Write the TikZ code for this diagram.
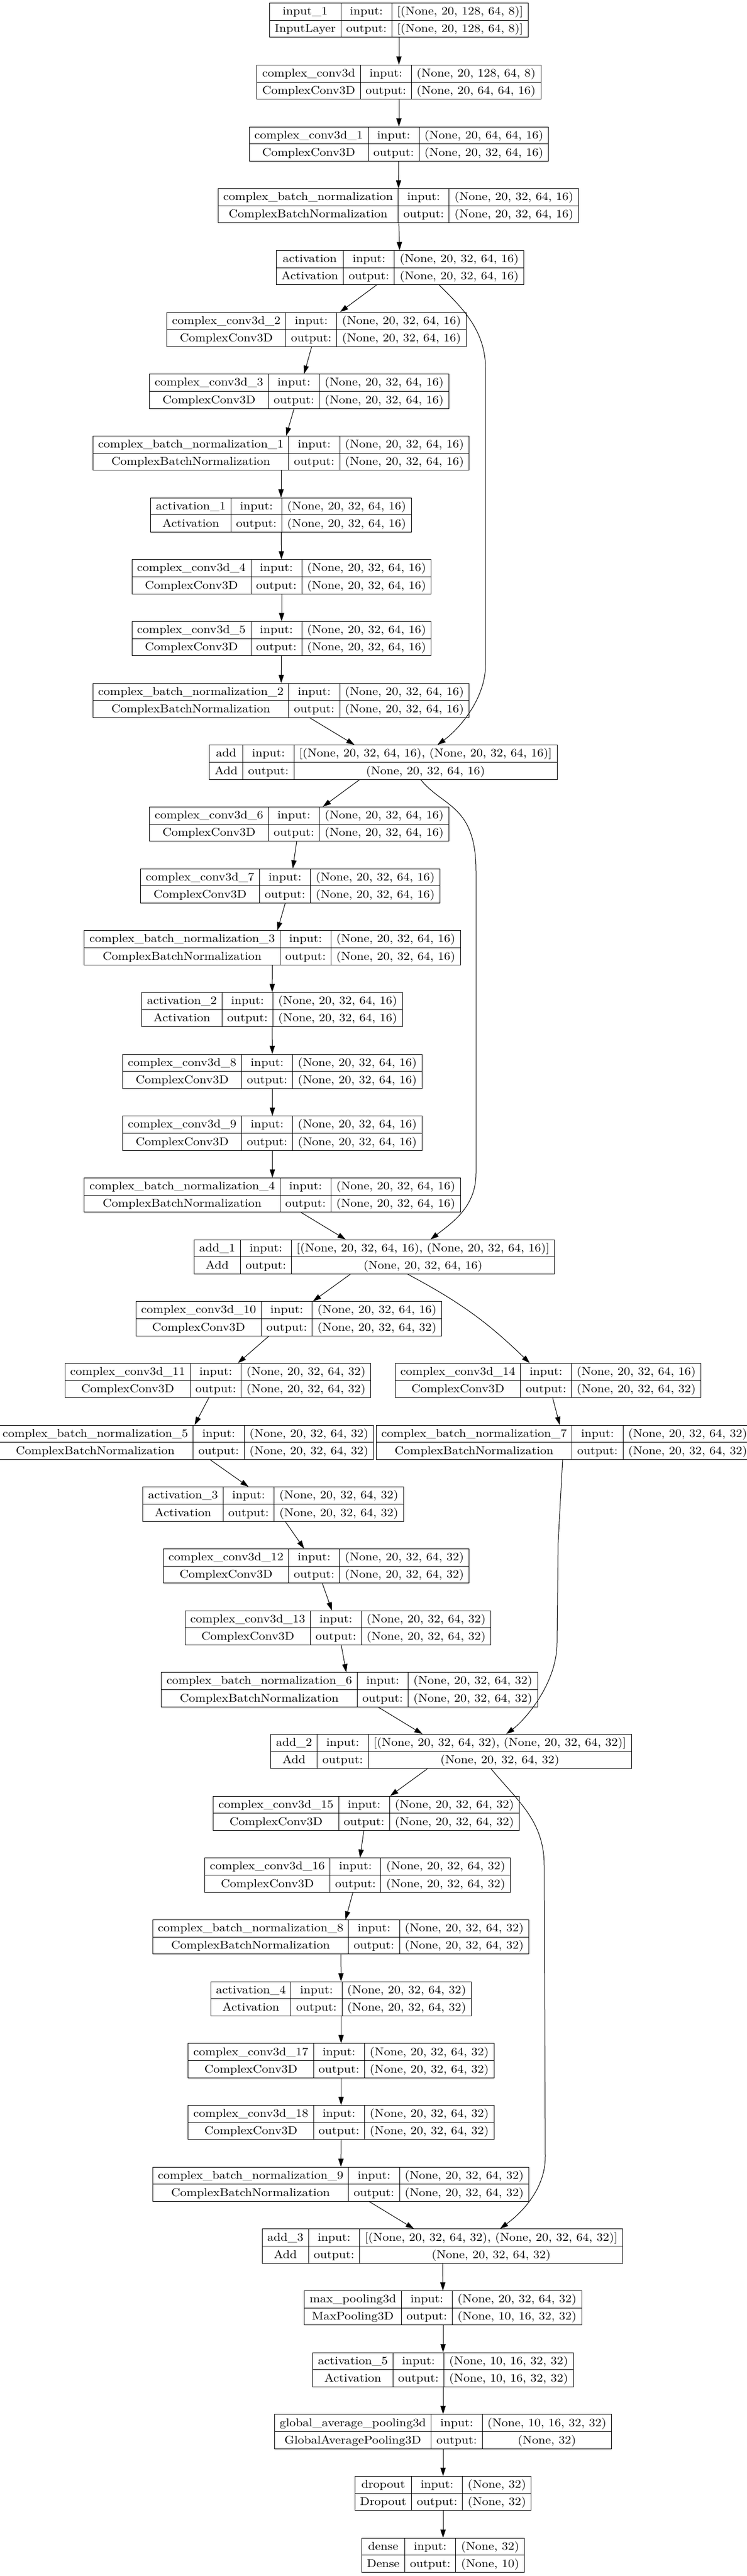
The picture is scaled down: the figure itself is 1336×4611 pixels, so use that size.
\documentclass[tikz,border=0pt]{standalone}
\usepackage{fontspec}
\usepackage{tikz}
\usetikzlibrary{arrows.meta,calc}

\newfontfamily\lyrfont{lmroman10-regular}[Extension=.otf,FakeStretch=1.11]
\setlength{\tabcolsep}{7pt}
\setlength{\arrayrulewidth}{0.75pt}
\newcommand{\lst}{\rule[-6.75pt]{0pt}{22.6pt}}
\newcommand{\lyr}[4]{\begin{tabular}{c|c|c}\lst#1 & input: & #3\\\hline\lst#2 & output: & #4\end{tabular}}
\newcommand{\rk}[1]{36.35+110.67*#1}

\begin{document}
\begin{tikzpicture}[
      x=0.75pt, y=-0.75pt,%
      layer/.style={draw, line width=0.75pt, inner sep=0pt,
                    font=\lyrfont\fontsize{15.2}{18}\selectfont},%
      edge/.style={line width=0.75pt, -{Triangle[length=11pt,width=7pt]}}%
    ]
    \useasboundingbox (0,0) rectangle (1336,4611);

    %% Stem
    \node[layer] (in1) at (714,{\rk{0}}) {\lyr{input\_1}{InputLayer}{[(None, 20, 128, 64, 8)]}{[(None, 20, 128, 64, 8)]}};
    \node[layer] (cv0) at (714,{\rk{1}}) {\lyr{complex\_conv3d}{ComplexConv3D}{(None, 20, 128, 64, 8)}{(None, 20, 64, 64, 16)}};
    \node[layer] (cv1) at (714,{\rk{2}}) {\lyr{complex\_conv3d\_1}{ComplexConv3D}{(None, 20, 64, 64, 16)}{(None, 20, 32, 64, 16)}};
    \node[layer] (bn0) at (713,{\rk{3}}) {\lyr{complex\_batch\_normalization}{ComplexBatchNormalization}{(None, 20, 32, 64, 16)}{(None, 20, 32, 64, 16)}};
    \node[layer] (ac0) at (716,{\rk{4}}) {\lyr{activation}{Activation}{(None, 20, 32, 64, 16)}{(None, 20, 32, 64, 16)}};

    %% Block 1
    \node[layer] (cv2) at (566.5,{\rk{5}}) {\lyr{complex\_conv3d\_2}{ComplexConv3D}{(None, 20, 32, 64, 16)}{(None, 20, 32, 64, 16)}};
    \node[layer] (cv3) at (535.5,{\rk{6}}) {\lyr{complex\_conv3d\_3}{ComplexConv3D}{(None, 20, 32, 64, 16)}{(None, 20, 32, 64, 16)}};
    \node[layer] (bn1) at (503,{\rk{7}}) {\lyr{complex\_batch\_normalization\_1}{ComplexBatchNormalization}{(None, 20, 32, 64, 16)}{(None, 20, 32, 64, 16)}};
    \node[layer] (ac1) at (503,{\rk{8}}) {\lyr{activation\_1}{Activation}{(None, 20, 32, 64, 16)}{(None, 20, 32, 64, 16)}};
    \node[layer] (cv4) at (504,{\rk{9}}) {\lyr{complex\_conv3d\_4}{ComplexConv3D}{(None, 20, 32, 64, 16)}{(None, 20, 32, 64, 16)}};
    \node[layer] (cv5) at (504,{\rk{10}}) {\lyr{complex\_conv3d\_5}{ComplexConv3D}{(None, 20, 32, 64, 16)}{(None, 20, 32, 64, 16)}};
    \node[layer] (bn2) at (503,{\rk{11}}) {\lyr{complex\_batch\_normalization\_2}{ComplexBatchNormalization}{(None, 20, 32, 64, 16)}{(None, 20, 32, 64, 16)}};
    \node[layer] (ad0) at (686,{\rk{12}}) {\lyr{add}{Add}{[(None, 20, 32, 64, 16), (None, 20, 32, 64, 16)]}{(None, 20, 32, 64, 16)}};

    %% Block 2
    \node[layer] (cv6) at (535.5,{\rk{13}}) {\lyr{complex\_conv3d\_6}{ComplexConv3D}{(None, 20, 32, 64, 16)}{(None, 20, 32, 64, 16)}};
    \node[layer] (cv7) at (519.5,{\rk{14}}) {\lyr{complex\_conv3d\_7}{ComplexConv3D}{(None, 20, 32, 64, 16)}{(None, 20, 32, 64, 16)}};
    \node[layer] (bn3) at (487.5,{\rk{15}}) {\lyr{complex\_batch\_normalization\_3}{ComplexBatchNormalization}{(None, 20, 32, 64, 16)}{(None, 20, 32, 64, 16)}};
    \node[layer] (ac2) at (487,{\rk{16}}) {\lyr{activation\_2}{Activation}{(None, 20, 32, 64, 16)}{(None, 20, 32, 64, 16)}};
    \node[layer] (cv8) at (487.5,{\rk{17}}) {\lyr{complex\_conv3d\_8}{ComplexConv3D}{(None, 20, 32, 64, 16)}{(None, 20, 32, 64, 16)}};
    \node[layer] (cv9) at (487.5,{\rk{18}}) {\lyr{complex\_conv3d\_9}{ComplexConv3D}{(None, 20, 32, 64, 16)}{(None, 20, 32, 64, 16)}};
    \node[layer] (bn4) at (487.5,{\rk{19}}) {\lyr{complex\_batch\_normalization\_4}{ComplexBatchNormalization}{(None, 20, 32, 64, 16)}{(None, 20, 32, 64, 16)}};
    \node[layer] (ad1) at (670,{\rk{20}}) {\lyr{add\_1}{Add}{[(None, 20, 32, 64, 16), (None, 20, 32, 64, 16)]}{(None, 20, 32, 64, 16)}};

    %% Block 3 (with projection branch)
    \node[layer] (cv10) at (517,{\rk{21}}) {\lyr{complex\_conv3d\_10}{ComplexConv3D}{(None, 20, 32, 64, 16)}{(None, 20, 32, 64, 32)}};
    \node[layer] (cv11) at (390,{\rk{22}}) {\lyr{complex\_conv3d\_11}{ComplexConv3D}{(None, 20, 32, 64, 32)}{(None, 20, 32, 64, 32)}};
    \node[layer] (cv14) at (981,{\rk{22}}) {\lyr{complex\_conv3d\_14}{ComplexConv3D}{(None, 20, 32, 64, 16)}{(None, 20, 32, 64, 32)}};
    \node[layer] (bn5) at (332,{\rk{23}}) {\lyr{complex\_batch\_normalization\_5}{ComplexBatchNormalization}{(None, 20, 32, 64, 32)}{(None, 20, 32, 64, 32)}};
    \node[layer] (bn7) at (1010,{\rk{23}}) {\lyr{complex\_batch\_normalization\_7}{ComplexBatchNormalization}{(None, 20, 32, 64, 32)}{(None, 20, 32, 64, 32)}};
    \node[layer] (ac3) at (489,{\rk{24}}) {\lyr{activation\_3}{Activation}{(None, 20, 32, 64, 32)}{(None, 20, 32, 64, 32)}};
    \node[layer] (cv12) at (566,{\rk{25}}) {\lyr{complex\_conv3d\_12}{ComplexConv3D}{(None, 20, 32, 64, 32)}{(None, 20, 32, 64, 32)}};
    \node[layer] (cv13) at (605,{\rk{26}}) {\lyr{complex\_conv3d\_13}{ComplexConv3D}{(None, 20, 32, 64, 32)}{(None, 20, 32, 64, 32)}};
    \node[layer] (bn6) at (625.5,{\rk{27}}) {\lyr{complex\_batch\_normalization\_6}{ComplexBatchNormalization}{(None, 20, 32, 64, 32)}{(None, 20, 32, 64, 32)}};
    \node[layer] (ad2) at (807.5,{\rk{28}}) {\lyr{add\_2}{Add}{[(None, 20, 32, 64, 32), (None, 20, 32, 64, 32)]}{(None, 20, 32, 64, 32)}};

    %% Block 4
    \node[layer] (cv15) at (655.5,{\rk{29}}) {\lyr{complex\_conv3d\_15}{ComplexConv3D}{(None, 20, 32, 64, 32)}{(None, 20, 32, 64, 32)}};
    \node[layer] (cv16) at (640,{\rk{30}}) {\lyr{complex\_conv3d\_16}{ComplexConv3D}{(None, 20, 32, 64, 32)}{(None, 20, 32, 64, 32)}};
    \node[layer] (bn8) at (610,{\rk{31}}) {\lyr{complex\_batch\_normalization\_8}{ComplexBatchNormalization}{(None, 20, 32, 64, 32)}{(None, 20, 32, 64, 32)}};
    \node[layer] (ac4) at (610.5,{\rk{32}}) {\lyr{activation\_4}{Activation}{(None, 20, 32, 64, 32)}{(None, 20, 32, 64, 32)}};
    \node[layer] (cv17) at (610.5,{\rk{33}}) {\lyr{complex\_conv3d\_17}{ComplexConv3D}{(None, 20, 32, 64, 32)}{(None, 20, 32, 64, 32)}};
    \node[layer] (cv18) at (610.5,{\rk{34}}) {\lyr{complex\_conv3d\_18}{ComplexConv3D}{(None, 20, 32, 64, 32)}{(None, 20, 32, 64, 32)}};
    \node[layer] (bn9) at (610,{\rk{35}}) {\lyr{complex\_batch\_normalization\_9}{ComplexBatchNormalization}{(None, 20, 32, 64, 32)}{(None, 20, 32, 64, 32)}};
    \node[layer] (ad3) at (792,{\rk{36}}) {\lyr{add\_3}{Add}{[(None, 20, 32, 64, 32), (None, 20, 32, 64, 32)]}{(None, 20, 32, 64, 32)}};

    %% Head
    \node[layer] (mp) at (793,{\rk{37}}) {\lyr{max\_pooling3d}{MaxPooling3D}{(None, 20, 32, 64, 32)}{(None, 10, 16, 32, 32)}};
    \node[layer] (ac5) at (793,{\rk{38}}) {\lyr{activation\_5}{Activation}{(None, 10, 16, 32, 32)}{(None, 10, 16, 32, 32)}};
    \node[layer] (gap) at (793,{\rk{39}}) {\lyr{global\_average\_pooling3d}{GlobalAveragePooling3D}{(None, 10, 16, 32, 32)}{(None, 32)}};
    \node[layer] (drop) at (793,{\rk{40}}) {\lyr{dropout}{Dropout}{(None, 32)}{(None, 32)}};
    \node[layer] (dense) at (793,{\rk{41}}) {\lyr{dense}{Dense}{(None, 32)}{(None, 10)}};

    %% Main chain
    \foreach \a/\b in {in1/cv0, cv0/cv1, cv1/bn0, bn0/ac0, ac0/cv2, cv2/cv3, cv3/bn1,
                       bn1/ac1, ac1/cv4, cv4/cv5, cv5/bn2, bn2/ad0, ad0/cv6, cv6/cv7,
                       cv7/bn3, bn3/ac2, ac2/cv8, cv8/cv9, cv9/bn4, bn4/ad1, ad1/cv10,
                       cv10/cv11, cv11/bn5, bn5/ac3, ac3/cv12, cv12/cv13, cv13/bn6,
                       bn6/ad2, cv14/bn7, ad2/cv15, cv15/cv16, cv16/bn8, bn8/ac4,
                       ac4/cv17, cv17/cv18, cv18/bn9, bn9/ad3, ad3/mp, mp/ac5,
                       ac5/gap, gap/drop, drop/dense}
      \draw[edge] (\a) -- (\b);

    %% Skip connections
    \draw[edge] ($(ac0.south)+(70,0)$) .. controls +(40,40) and (869,590) .. (869,660)
                -- (869,1190) .. controls (869,1250) and (823,1304) .. ($(ad0.north)+(97,0)$);
    \draw[edge] ($(ad0.south)+(67,0)$) .. controls +(40,50) and (852,1440) .. (852,1560)
                -- (852,2100) .. controls (852,2160) and (810,2188) .. ($(ad1.north)+(100.5,0)$);
    \draw[edge] (ad1) to[bend left=8] (cv14);
    \draw[edge] ($(bn7.south)+(-3,0)$) -- (999,2760) -- (997,2940)
                .. controls (997,3015) and (938,3080) .. ($(ad2.north)+(98.5,0)$);
    \draw[edge] ($(ad2.south)+(71.5,0)$) .. controls +(50,60) and (974,3260) .. (974,3340)
                -- (976,3860) .. controls (976,3920) and (932,3962) .. ($(ad3.north)+(103,0)$);
  \end{tikzpicture}
\end{document}
